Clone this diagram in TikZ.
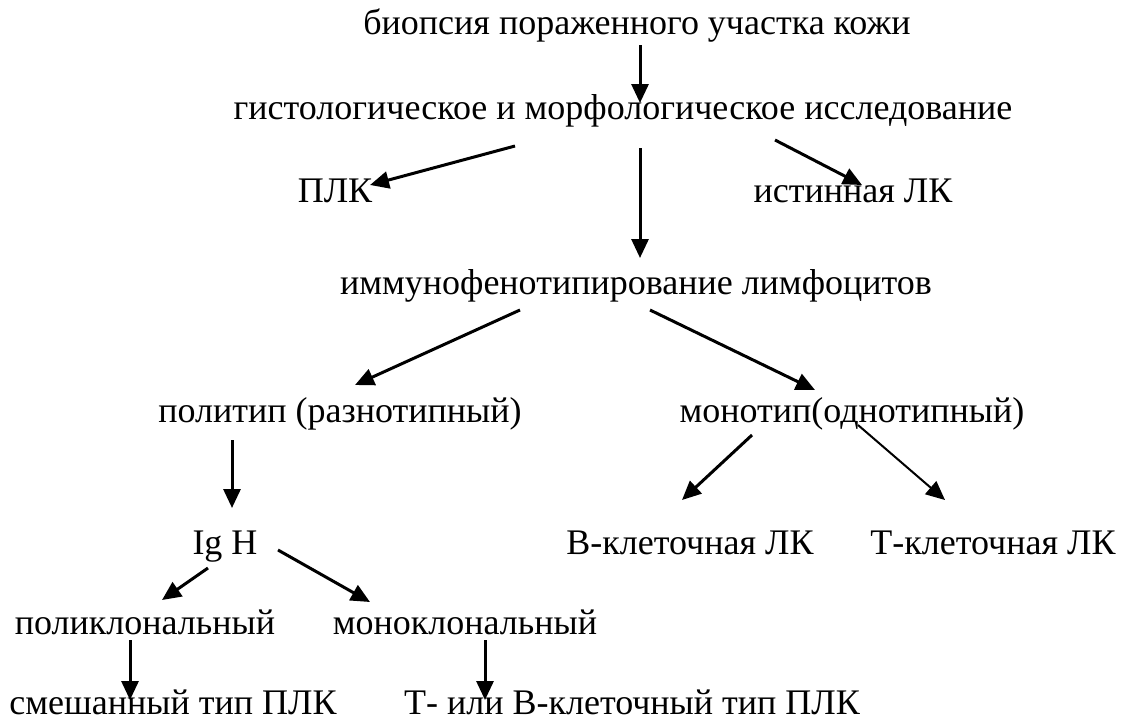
\documentclass[tikz,border=0pt]{standalone}
\usepackage{fontspec}
\setmainfont{Liberation Serif}
\usetikzlibrary{arrows.meta, calc, positioning}
\tikzstyle{line} = [draw, line width=3pt, -{Triangle[length=19pt, width=17pt]}]
\tikzstyle{thinline} = [draw, line width=2pt, -{Triangle[length=19pt, width=17pt]}]
\tikzstyle{caption} = [inner sep=0pt, text height=26pt, text depth=8pt, font=\fontsize{36}{40}\selectfont]

\begin{document}
\begin{tikzpicture}[x=1pt, y=-1pt]
\useasboundingbox (0,0) rectangle (1131,726);
\node [caption] (biopsy) at (637,25) {биопсия пораженного участка кожи};
\node [caption] (histo) at (623,110) {гистологическое и морфологическое исследование};
\node [caption] (plk) at (335,193) {ПЛК};
\node [caption] (truelk) at (853,193) {истинная ЛК};
\node [caption] (immuno) at (636,285) {иммунофенотипирование лимфоцитов};
\node [caption] (polytype) at (340,413) {политип (разнотипный)};
\node [caption] (monotype) at (852,413) {монотип(однотипный)};
\node [caption] (igh) at (225,545) {Ig H};
\node [caption] (bcell) at (690,545) {В-клеточная ЛК};
\node [caption] (tcell) at (993,545) {Т-клеточная ЛК};
\node [caption] (polyclon) at (145,625) {поликлональный};
\node [caption] (monoclon) at (465,625) {моноклональный};
\node [caption] (mixed) at (173,705) {смешанный тип ПЛК};
\node [caption] (tbtype) at (632,705) {Т- или В-клеточный тип ПЛК};
\path [line] ($(biopsy)+(3,20)$) -- ($(histo)+(17,-7)$);
\path [line] ($(histo)+(-108,36)$) -- ($(plk)+(35,-8)$);
\path [line] ($(histo)+(17,38)$) -- ($(immuno)+(4,-27)$);
\path [line] ($(histo)+(152,30)$) -- ($(truelk)+(9,-8)$);
\path [line] ($(immuno)+(-116,25)$) -- ($(polytype)+(15,-28)$);
\path [line] ($(immuno)+(14,25)$) -- ($(monotype)+(-37,-23)$);
\path [line] ($(monotype)+(-100,22)$) -- ($(bcell)+(-8,-45)$);
\path [thinline] ($(monotype)+(6,12)$) -- ($(tcell)+(-48,-45)$);
\path [line] ($(polytype)+(-108,27)$) -- ($(igh)+(7,-37)$);
\path [line] ($(igh)+(-17,23)$) -- ($(polyclon)+(17,-25)$);
\path [line] ($(igh)+(53,5)$) -- ($(monoclon)+(-95,-23)$);
\path [line] ($(polyclon)+(-15,15)$) -- ($(mixed)+(-43,-5)$);
\path [line] ($(monoclon)+(20,15)$) -- ($(tbtype)+(-147,-5)$);
\end{tikzpicture}
\end{document}
